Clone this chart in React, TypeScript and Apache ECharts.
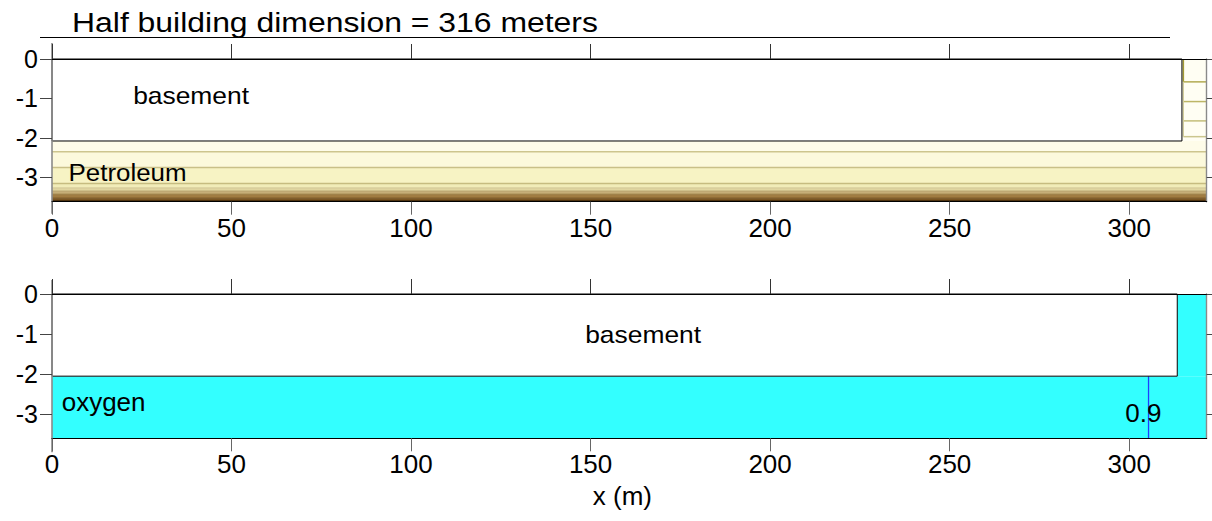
import React, { useEffect, useRef } from "react";
import * as echarts from "echarts";

// ---------- data ----------
const TITLE = "Half building dimension = 316 meters";
const X_AXIS_NAME = "x (m)";
const X_MAX = 321.6;
const X_TICKS = [0, 50, 100, 150, 200, 250, 300];
const Y_TICKS = [0, -1, -2, -3];
const TOP_Y_MIN = -3.62;
const BOTTOM_Y_MIN = -3.6;

// top panel (petroleum)
const TOP_BASEMENT_EDGE = 314.7;
const TOP_BASEMENT_DEPTH = -2.08;
const PETROLEUM_LEVELS = [-2.08, -2.35, -2.75, -3.16, -3.27, -3.35, -3.43, -3.53, -3.59, -3.62];
const PETROLEUM_COLORS = ["#fefce9", "#fcf9dc", "#f7f3c4", "#f1ecb8", "#e0d5a0", "#c6ae78", "#a07c42", "#7a5522", "#553812"];
const PETROLEUM_LINE_COLORS = ["#cdc58e", "#c9c088", "#c6bc80", "#d2c696", "#b9a470", "#96773e", "#74511f", "#4e3210"];
const COLUMN_CONTOURS = [-0.58, -1.08, -1.57, -1.97];
const COLUMN_CONTOUR_COLORS = ["#b3ab52", "#bdb666", "#c4be7a", "#cbc68e"];
const COLUMN_VERTICAL_X = 315.1;
const COLUMN_FILL = "#fffef3";

// bottom panel (oxygen)
const BOTTOM_BASEMENT_EDGE = 313.4;
const BOTTOM_BASEMENT_DEPTH = -2.05;
const OXYGEN_FILL = "#33ffff";
const OXYGEN_CONTOUR_X = 305.4;
const OXYGEN_CONTOUR_LABEL = "0.9";

// annotations [text, x, y]
const TOP_LABELS = ["basement", "Petroleum"];
const TOP_LABEL_X = [22.6, 4.6];
const TOP_LABEL_Y = [-0.93, -2.87];
const BOTTOM_LABELS = ["basement", "oxygen", OXYGEN_CONTOUR_LABEL];
const BOTTOM_LABEL_X = [148.5, 2.7, 298.9];
const BOTTOM_LABEL_Y = [-1.0, -2.7, -2.97];

// ---------- styling ----------
const FONT = "'Liberation Sans', Arial, Helvetica, sans-serif";
const TOP_LABEL_STYLE = [
  { size: 24, sx: 1.1 },
  { size: 24, sx: 1.08 },
];
const BOTTOM_LABEL_STYLE = [
  { size: 24, sx: 1.1 },
  { size: 26, sx: 1.0 },
  { size: 26, sx: 1 },
];

function rectSeries(rects: number[][], fills: string[], xi: number, yi: number, stroke?: string, z = 2) {
  return {
    type: "custom",
    xAxisIndex: xi,
    yAxisIndex: yi,
    z,
    silent: true,
    clip: false,
    encode: { x: [0, 1], y: [2, 3] },
    data: rects,
    renderItem: (params: any, api: any) => {
      const p0 = api.coord([api.value(0), api.value(2)]);
      const p1 = api.coord([api.value(1), api.value(3)]);
      return {
        type: "rect",
        shape: { x: p0[0], y: p0[1], width: p1[0] - p0[0], height: p1[1] - p0[1] },
        style: stroke
          ? { fill: fills[params.dataIndex], stroke, lineWidth: 1 }
          : { fill: fills[params.dataIndex] },
      };
    },
  };
}

function lineSeries(lines: number[][], colors: string[], widths: number[], xi: number, yi: number, z = 3) {
  return {
    type: "custom",
    xAxisIndex: xi,
    yAxisIndex: yi,
    z,
    silent: true,
    clip: false,
    encode: { x: [0, 2], y: [1, 3] },
    data: lines,
    renderItem: (params: any, api: any) => {
      const p0 = api.coord([api.value(0), api.value(1)]);
      const p1 = api.coord([api.value(2), api.value(3)]);
      return {
        type: "line",
        shape: { x1: p0[0], y1: p0[1], x2: p1[0], y2: p1[1] },
        style: { stroke: colors[params.dataIndex], lineWidth: widths[params.dataIndex] },
      };
    },
  };
}

function textSeries(texts: string[], xs: number[], ys: number[], styles: { size: number; sx: number }[], xi: number, yi: number) {
  return {
    type: "custom",
    xAxisIndex: xi,
    yAxisIndex: yi,
    z: 8,
    silent: true,
    clip: false,
    encode: { x: 0, y: 1 },
    data: xs.map((x, i) => [x, ys[i]]),
    renderItem: (params: any, api: any) => {
      const i = params.dataIndex;
      const p = api.coord([api.value(0), api.value(1)]);
      return {
        type: "text",
        x: p[0],
        y: p[1],
        scaleX: styles[i].sx,
        style: {
          text: texts[i],
          fontSize: styles[i].size,
          fontFamily: FONT,
          fill: "#000",
          align: "left",
          verticalAlign: "middle",
        },
      };
    },
  };
}

function leftLineSeries(yMin: number, extTop: number, extBottom: number, xi: number, yi: number) {
  return {
    type: "custom",
    xAxisIndex: xi,
    yAxisIndex: yi,
    z: 9,
    silent: true,
    clip: false,
    encode: { x: 0, y: [1, 2] },
    data: [[0, 0, yMin]],
    renderItem: (params: any, api: any) => {
      const p0 = api.coord([api.value(0), api.value(1)]);
      const p1 = api.coord([api.value(0), api.value(2)]);
      return {
        type: "line",
        shape: { x1: p0[0], y1: p0[1] - extTop, x2: p1[0], y2: p1[1] + extBottom },
        style: { stroke: "#8a8a8a", lineWidth: 1.6 },
      };
    },
  };
}

function xAxes(gridIndex: number, name: string) {
  return [
    {
      type: "value",
      gridIndex,
      position: "bottom",
      min: 0,
      max: X_MAX,
      z: 10,
      axisLine: { show: true, onZero: false, lineStyle: { color: "#000", width: 1 } },
      axisTick: { show: true, length: 13, customValues: X_TICKS, lineStyle: { color: "#666" } },
      axisLabel: { show: true, customValues: X_TICKS, fontSize: 26, color: "#000", fontFamily: FONT, margin: 13 },
      splitLine: { show: false },
      name,
      nameLocation: "middle",
      nameGap: 45,
      nameTextStyle: { fontSize: 26, color: "#000", fontFamily: FONT, padding: [0, 14, 0, 0] },
    },
    {
      type: "value",
      gridIndex,
      position: "top",
      min: 0,
      max: X_MAX,
      z: 10,
      axisLine: { show: true, onZero: false, lineStyle: { color: "#000", width: 1 } },
      axisTick: { show: true, length: 15, customValues: X_TICKS, lineStyle: { color: "#333" } },
      axisLabel: { show: false },
      splitLine: { show: false },
    },
  ];
}

function yAxes(gridIndex: number, yMin: number) {
  return [
    {
      type: "value",
      gridIndex,
      position: "left",
      min: yMin,
      max: 0,
      z: 10,
      axisLine: { show: false, onZero: false },
      axisTick: { show: true, length: 12, customValues: Y_TICKS, lineStyle: { color: "#444" } },
      axisLabel: { show: true, customValues: Y_TICKS, fontSize: 25, color: "#000", fontFamily: FONT, margin: 14 },
      splitLine: { show: false },
    },
    {
      type: "value",
      gridIndex,
      position: "right",
      min: yMin,
      max: 0,
      z: 10,
      axisLine: { show: true, onZero: false, lineStyle: { color: "#8a8a8a", width: 1.4 } },
      axisTick: { show: true, length: 6, customValues: Y_TICKS, lineStyle: { color: "#444" } },
      axisLabel: { show: false },
      splitLine: { show: false },
    },
  ];
}

function buildOption() {
  const petroleumRects = PETROLEUM_COLORS.map((_, i) => [0, X_MAX, PETROLEUM_LEVELS[i], PETROLEUM_LEVELS[i + 1]]);
  const topFills = [...petroleumRects, [TOP_BASEMENT_EDGE, X_MAX, 0, TOP_BASEMENT_DEPTH]];
  const topFillColors = [...PETROLEUM_COLORS, COLUMN_FILL];

  const petroLines = PETROLEUM_LEVELS.slice(1, 1 + PETROLEUM_LINE_COLORS.length).map((y) => [0, y, X_MAX, y]);
  const colLines = COLUMN_CONTOURS.map((y) => [COLUMN_VERTICAL_X, y, X_MAX, y]);
  const vertLines = [
    [COLUMN_VERTICAL_X, 0, COLUMN_VERTICAL_X, COLUMN_CONTOURS[0]],
    [COLUMN_VERTICAL_X, COLUMN_CONTOURS[0], COLUMN_VERTICAL_X, COLUMN_CONTOURS[COLUMN_CONTOURS.length - 1]],
  ];
  const topLines = [...petroLines, ...colLines, ...vertLines];
  const topLineColors = [...PETROLEUM_LINE_COLORS, ...COLUMN_CONTOUR_COLORS, "#a39b33", "#d2cd98"];
  const topLineWidths = [
    ...PETROLEUM_LINE_COLORS.map((_, i) => (i < 3 ? 1.5 : 1)),
    ...COLUMN_CONTOURS.map(() => 1.5),
    1.5,
    1.2,
  ];

  const bottomFills = [
    [0, X_MAX, BOTTOM_BASEMENT_DEPTH, BOTTOM_Y_MIN],
    [BOTTOM_BASEMENT_EDGE, X_MAX, 0, BOTTOM_BASEMENT_DEPTH],
  ];
  const bottomLines = [[OXYGEN_CONTOUR_X, BOTTOM_BASEMENT_DEPTH, OXYGEN_CONTOUR_X, BOTTOM_Y_MIN]];

  return {
    animation: false,
    backgroundColor: "#fff",
    graphic: [
      {
        type: "text",
        x: 72,
        y: 22,
        scaleX: 1.14,
        style: { text: TITLE, fontSize: 28, fontFamily: FONT, fill: "#000", align: "left", verticalAlign: "middle" },
      },
      {
        type: "line",
        shape: { x1: 40, y1: 37.5, x2: 1170, y2: 37.5 },
        style: { stroke: "#000", lineWidth: 1 },
      },
    ],
    grid: [
      { left: 52, top: 59, width: 1154.7, height: 142.7 },
      { left: 52, top: 294, width: 1154.7, height: 144.3 },
    ],
    xAxis: [...xAxes(0, ""), ...xAxes(1, X_AXIS_NAME)],
    yAxis: [...yAxes(0, TOP_Y_MIN), ...yAxes(1, BOTTOM_Y_MIN)],
    series: [
      rectSeries(topFills, topFillColors, 0, 0, undefined, 2),
      lineSeries(topLines, topLineColors, topLineWidths, 0, 0, 3),
      rectSeries([[0, TOP_BASEMENT_EDGE, 0, TOP_BASEMENT_DEPTH]], ["#ffffff"], 0, 0, "#000", 4),
      textSeries(TOP_LABELS, TOP_LABEL_X, TOP_LABEL_Y, TOP_LABEL_STYLE, 0, 0),
      leftLineSeries(TOP_Y_MIN, 16, 12, 0, 0),
      rectSeries(bottomFills, [OXYGEN_FILL, OXYGEN_FILL], 2, 2, undefined, 2),
      lineSeries(bottomLines, ["#1f3dff"], [1.3], 2, 2, 3),
      rectSeries([[0, BOTTOM_BASEMENT_EDGE, 0, BOTTOM_BASEMENT_DEPTH]], ["#ffffff"], 2, 2, "#000", 4),
      textSeries(BOTTOM_LABELS, BOTTOM_LABEL_X, BOTTOM_LABEL_Y, BOTTOM_LABEL_STYLE, 2, 2),
      leftLineSeries(BOTTOM_Y_MIN, 14, 14, 2, 2),
    ],
  };
}

export default function App() {
  const ref = useRef<HTMLDivElement>(null);
  useEffect(() => {
    document.body.style.margin = "0";
    const chart = echarts.init(ref.current as HTMLDivElement, null, { renderer: "svg" });
    chart.setOption(buildOption() as any);
    return () => chart.dispose();
  }, []);
  return <div ref={ref} style={{ width: 1212, height: 521 }} />;
}
